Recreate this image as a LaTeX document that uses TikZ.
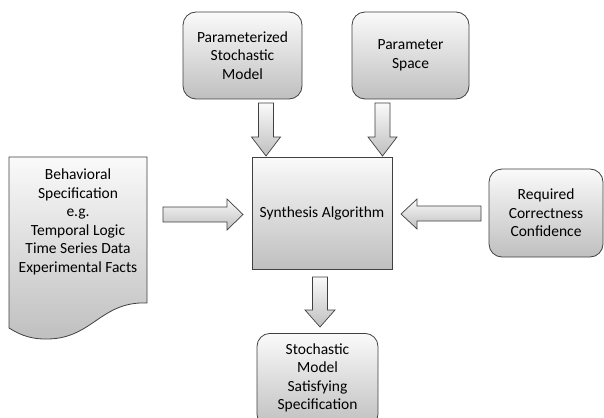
\documentclass[tikz,border=0pt]{standalone}
\usepackage{fontspec}
\setmainfont{Carlito}
\begin{document}
\begin{tikzpicture}[x=1pt,y=-1pt,
  fillgrad/.style={top color=gray!4, bottom color=gray!50, draw=black!75, line width=0.8pt},
  roundbox/.style={fillgrad, rounded corners=13pt, align=center, inner sep=0pt,
     font=\fontsize{15.5}{18.5}\selectfont},
  sqbox/.style={fillgrad, align=center, inner sep=0pt, font=\fontsize{15.5}{18.5}\selectfont},
  txt/.style={align=center, inner sep=0pt, font=\fontsize{15.5}{18.5}\selectfont},
  fat/.style={fillgrad, line width=0.7pt, line join=miter}]
\clip (0,0) rectangle (604,417);
\fill[white] (0,0) rectangle (604,417);

% boxes
\node[roundbox, minimum width=119pt, minimum height=87pt] (pm) at (242.5,55.5)
  {Parameterized\\Stochastic\\Model};
\node[roundbox, minimum width=117pt, minimum height=87pt] (ps) at (410.5,55.5)
  {Parameter\\Space};
\node[sqbox, minimum width=140pt, minimum height=112pt] (syn) at (322,213)
  {Synthesis Algorithm};
\node[roundbox, minimum width=114pt, minimum height=88pt] (rc) at (546,213)
  {Required\\Correctness\\Confidence};
\node[roundbox, minimum width=121pt, minimum height=94pt, anchor=north] (out) at (317.5,333)
  {};
\node[txt] (outt) at (317.5,378) {Stochastic\\Model\\Satisfying\\Specification};

% document shape
\path[fillgrad] (9,157) -- (147,157) -- (147,303)
  .. controls (100,301) and (92,340) .. (45,339)
  .. controls (28,339) and (17,333) .. (9,328) -- cycle;
\node[txt] (doc) at (78,222) {Behavioral\\Specification\\e.g.\\Temporal Logic\\Time Series Data\\Experimental Facts};

% fat arrows
\path[fat] (258.5,103) -- (273.5,103) -- (273.5,137) -- (280.5,137) -- (266,156)
  -- (251.5,137) -- (258.5,137) -- cycle;
\path[fat] (375,103) -- (390,103) -- (390,137) -- (397,137) -- (382.5,156)
  -- (368,137) -- (375,137) -- cycle;
\path[fat] (312.5,277) -- (327.5,277) -- (327.5,310) -- (335,310) -- (320,327)
  -- (305,310) -- (312.5,310) -- cycle;
\path[fat] (163,207) -- (227,207) -- (227,199) -- (243,214.5) -- (227,230)
  -- (227,222) -- (163,222) -- cycle;
\path[fat] (481,206) -- (417,206) -- (417,199) -- (401,214) -- (417,229)
  -- (417,221) -- (481,221) -- cycle;
\end{tikzpicture}
\end{document}
